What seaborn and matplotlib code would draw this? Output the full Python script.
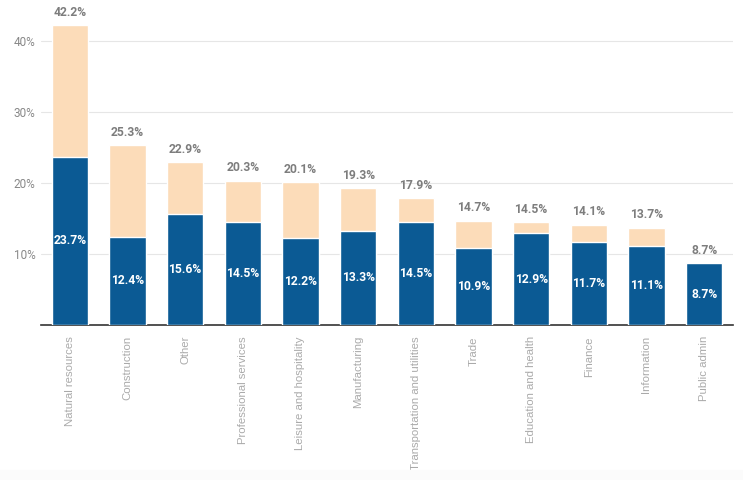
import matplotlib
matplotlib.use("Agg")
import matplotlib.pyplot as plt
import seaborn as sns
import pandas as pd

# Values
industries = ["Natural resources", "Construction", "Other", "Professional services",
              "Leisure and hospitality", "Manufacturing", "Transportation and utilities",
              "Trade", "Education and health", "Finance", "Information", "Public admin"]
total = [42.2, 25.3, 22.9, 20.3, 20.1, 19.3, 17.9, 14.7, 14.5, 14.1, 13.7, 8.7]
base = [23.7, 12.4, 15.6, 14.5, 12.2, 13.3, 14.5, 10.9, 12.9, 11.7, 11.1, 8.7]

df = pd.DataFrame({"industry": industries, "total": total, "base": base})

sns.set_style("white")
plt.rcParams["font.family"] = ["Roboto", "DejaVu Sans"]

fig = plt.figure(figsize=(7.43, 4.80), dpi=100)
ax = fig.add_axes([0.0552, 0.323, 0.9313, 0.6655])

light = "#fcdcb9"
dark = "#0b5a94"

sns.barplot(data=df, x="industry", y="total", color=light, width=0.63,
            saturation=1, ax=ax, zorder=2)
sns.barplot(data=df, x="industry", y="base", color=dark, width=0.63,
            saturation=1, ax=ax, zorder=3)

ax.set_xlim(-0.5, len(industries) - 0.5)
ax.set_ylim(0, 45)
ax.set_yticks([10, 20, 30, 40])
ax.set_yticklabels([f"{v}%" for v in [10, 20, 30, 40]])
ax.yaxis.grid(True, color="#e6e6e6", linewidth=0.8, zorder=0)
ax.set_axisbelow(True)
ax.set_xlabel("")
ax.set_ylabel("")

for s in ["top", "right", "left"]:
    ax.spines[s].set_visible(False)
ax.spines["bottom"].set_color("#333333")
ax.spines["bottom"].set_linewidth(1.2)

ax.tick_params(axis="y", length=0, labelsize=8.5, labelcolor="#888888", pad=4)
ax.tick_params(axis="x", length=4, width=1, color="#333333", labelsize=8.2,
               labelcolor="#aaaaaa", pad=4)
for lbl in ax.get_xticklabels():
    lbl.set_rotation(90)
    lbl.set_va("top")
    lbl.set_fontfamily(["Liberation Sans", "DejaVu Sans"])

for i, (t, b) in enumerate(zip(total, base)):
    ax.text(i, t + 0.9, f"{t}%", ha="center", va="bottom", fontsize=8.7,
            fontweight="bold", color="#7d7d7d")
    ax.text(i, b / 2, f"{b}%", ha="center", va="center", fontsize=8.7,
            fontweight="bold", color="white", zorder=4)

# faint band at the bottom
fig.patches.append(plt.Rectangle((0, 0), 1, 0.02, transform=fig.transFigure,
                                 color="#fbfbfb", zorder=0))

fig.savefig("out.png", dpi=100)
